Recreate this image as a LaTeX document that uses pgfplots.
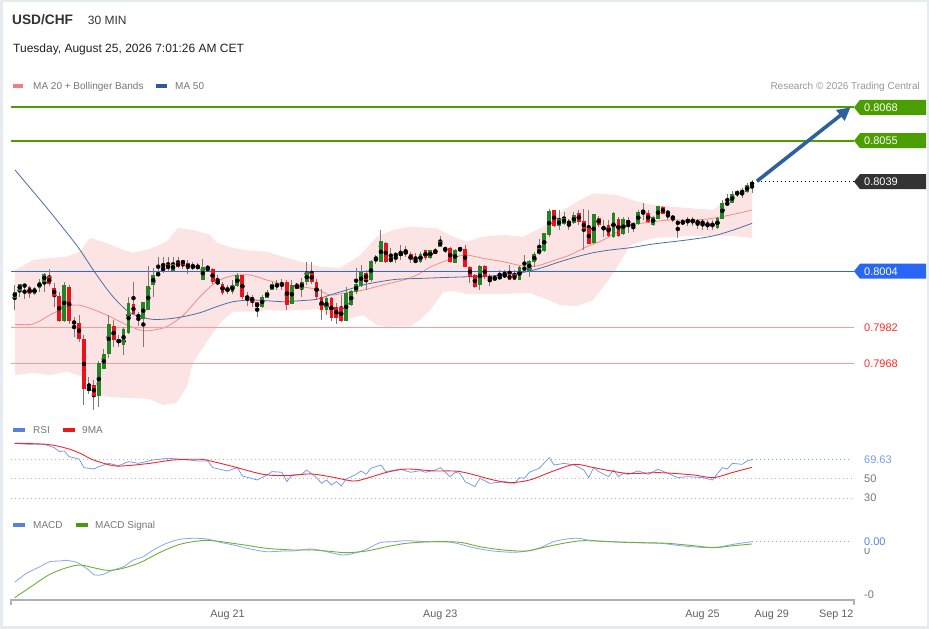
\documentclass[border=0pt]{standalone}
\usepackage{pgfplots}
\pgfplotsset{compat=1.18}
\usepackage{pgfplotstable}
\usetikzlibrary{arrows.meta}
\usepackage{fontspec}
\setmainfont{Liberation Sans}

\definecolor{lvlgreen}{HTML}{4A9E00}
\definecolor{lvlblue}{HTML}{2A66F5}
\definecolor{lvlred}{HTML}{FF9A9A}
\definecolor{lvlredtxt}{HTML}{FF2B2B}
\definecolor{darkbox}{HTML}{333333}
\definecolor{arrowblue}{HTML}{2F5F9F}
\definecolor{ma20}{HTML}{F28B8B}
\definecolor{ma50}{HTML}{4A6FA5}
\definecolor{band}{HTML}{FDE4E4}
\definecolor{cgreen}{HTML}{238423}
\definecolor{cred}{HTML}{E8141B}
\definecolor{wick}{HTML}{857575}
\definecolor{rsiblue}{HTML}{7C9CEB}
\definecolor{rsired}{HTML}{F0282D}
\definecolor{macdblue}{HTML}{8BA6EE}
\definecolor{sigreen}{HTML}{6CB236}
\definecolor{txtgray}{HTML}{777777}
\definecolor{gridgray}{HTML}{B4B4B4}
\definecolor{framec}{HTML}{E6EBEF}
\definecolor{axisgray}{HTML}{B0B0B8}
\definecolor{swma20}{HTML}{F47C7C}
\definecolor{swma50}{HTML}{2E5A9A}
\definecolor{swblue}{HTML}{5B7FE0}
\definecolor{swred}{HTML}{E81A1A}
\definecolor{swgreen}{HTML}{4A9A0A}

\newcommand{\fs}[1]{\fontsize{#1}{#1}\selectfont}

\pgfplotstableread{
i o h l c
1 0.79938 0.79986 0.79888 0.79960
2 0.79966 0.79993 0.79940 0.79989
3 0.79982 0.79990 0.79934 0.79986
4 0.79979 0.79986 0.79938 0.79953
5 0.79953 0.79979 0.79947 0.79976
6 0.79976 0.80012 0.79960 0.79999
7 0.79999 0.80032 0.79960 0.80029
8 0.80021 0.80050 0.79982 0.79990
9 0.79976 0.79993 0.79901 0.79944
10 0.79944 0.79960 0.79843 0.79849
11 0.79847 0.79999 0.79843 0.79986
12 0.79979 0.79986 0.79836 0.79845
13 0.79845 0.79862 0.79784 0.79836
14 0.79839 0.79869 0.79765 0.79778
15 0.79775 0.79791 0.79517 0.79582
16 0.79586 0.79628 0.79563 0.79576
17 0.79595 0.79615 0.79498 0.79556
18 0.79556 0.79693 0.79511 0.79683
19 0.79660 0.79739 0.79660 0.79716
20 0.79719 0.79869 0.79700 0.79834
21 0.79827 0.79849 0.79745 0.79771
22 0.79775 0.79791 0.79745 0.79761
23 0.79752 0.79823 0.79713 0.79813
24 0.79800 0.79940 0.79797 0.79914
25 0.79912 0.79999 0.79873 0.79875
26 0.79869 0.79882 0.79827 0.79862
27 0.79856 0.79921 0.79745 0.79918
28 0.79892 0.80060 0.79888 0.79982
29 0.79986 0.80055 0.79940 0.80025
30 0.80022 0.80097 0.80021 0.80035
31 0.80041 0.80097 0.80032 0.80058
32 0.80067 0.80097 0.80038 0.80051
33 0.80045 0.80099 0.80038 0.80068
34 0.80077 0.80097 0.80055 0.80060
35 0.80084 0.80086 0.80051 0.80068
36 0.80071 0.80084 0.80032 0.80054
37 0.80062 0.80077 0.80045 0.80054
38 0.80064 0.80073 0.80045 0.80051
39 0.80009 0.80088 0.80006 0.80058
40 0.80058 0.80060 0.80038 0.80051
41 0.80050 0.80055 0.79993 0.79999
42 0.79999 0.80025 0.79986 0.79993
43 0.79990 0.79999 0.79947 0.79956
44 0.79977 0.79986 0.79953 0.79960
45 0.79960 0.80006 0.79953 0.79986
46 0.79982 0.80032 0.79979 0.80025
47 0.80025 0.80028 0.79934 0.79940
48 0.79944 0.79960 0.79905 0.79934
49 0.79940 0.79947 0.79901 0.79921
50 0.79918 0.79921 0.79860 0.79901
51 0.79901 0.79947 0.79895 0.79940
52 0.79938 0.79966 0.79934 0.79960
53 0.79969 0.79999 0.79966 0.79990
54 0.79982 0.80006 0.79966 0.79990
55 0.79996 0.80008 0.79966 0.79986
56 0.79999 0.80006 0.79888 0.79908
57 0.79914 0.80006 0.79912 0.79986
58 0.79989 0.79996 0.79973 0.79973
59 0.79973 0.80012 0.79940 0.79999
60 0.79999 0.80077 0.79986 0.80038
61 0.80034 0.80077 0.79993 0.79999
62 0.79999 0.80010 0.79927 0.79940
63 0.79940 0.79973 0.79849 0.79892
64 0.79891 0.79940 0.79869 0.79934
65 0.79934 0.79940 0.79849 0.79860
66 0.79901 0.79917 0.79834 0.79860
67 0.79901 0.79947 0.79843 0.79849
68 0.79849 0.79980 0.79847 0.79956
69 0.79908 0.79967 0.79904 0.79963
70 0.79959 0.80055 0.79953 0.79990
71 0.79986 0.80064 0.79980 0.80038
72 0.80034 0.80045 0.79967 0.80006
73 0.80006 0.80084 0.79999 0.80080
74 0.80089 0.80103 0.80071 0.80094
75 0.80077 0.80201 0.80075 0.80158
76 0.80149 0.80155 0.80073 0.80077
77 0.80077 0.80129 0.80073 0.80097
78 0.80107 0.80116 0.80071 0.80102
79 0.80103 0.80142 0.80084 0.80112
80 0.80116 0.80141 0.80097 0.80112
81 0.80107 0.80116 0.80073 0.80084
82 0.80084 0.80110 0.80071 0.80077
83 0.80077 0.80116 0.80073 0.80107
84 0.80123 0.80125 0.80084 0.80094
85 0.80094 0.80125 0.80090 0.80123
86 0.80123 0.80129 0.80107 0.80110
87 0.80138 0.80177 0.80136 0.80158
88 0.80132 0.80136 0.80112 0.80123
89 0.80129 0.80136 0.80073 0.80077
90 0.80073 0.80125 0.80071 0.80123
91 0.80123 0.80136 0.80120 0.80129
92 0.80127 0.80142 0.80058 0.80060
93 0.80058 0.80060 0.79993 0.80019
94 0.80025 0.80032 0.79977 0.79980
95 0.79986 0.80064 0.79967 0.80058
96 0.80060 0.80064 0.80012 0.80019
97 0.80019 0.80029 0.79982 0.80006
98 0.80008 0.80025 0.80006 0.80016
99 0.80012 0.80045 0.80009 0.80022
100 0.80021 0.80045 0.80016 0.80028
101 0.80028 0.80064 0.80006 0.80009
102 0.80028 0.80045 0.80006 0.80009
103 0.80008 0.80060 0.80006 0.80055
104 0.80055 0.80103 0.80038 0.80047
105 0.80042 0.80084 0.80019 0.80081
106 0.80077 0.80116 0.80058 0.80107
107 0.80107 0.80168 0.80103 0.80129
108 0.80120 0.80190 0.80116 0.80188
109 0.80181 0.80282 0.80175 0.80275
110 0.80279 0.80282 0.80214 0.80220
111 0.80218 0.80279 0.80201 0.80244
112 0.80227 0.80272 0.80220 0.80249
113 0.80227 0.80244 0.80201 0.80236
114 0.80229 0.80272 0.80224 0.80259
115 0.80269 0.80282 0.80220 0.80233
116 0.80236 0.80282 0.80123 0.80207
117 0.80207 0.80279 0.80146 0.80149
118 0.80151 0.80266 0.80149 0.80263
119 0.80249 0.80256 0.80214 0.80223
120 0.80211 0.80243 0.80175 0.80206
121 0.80220 0.80240 0.80175 0.80181
122 0.80177 0.80272 0.80168 0.80269
123 0.80243 0.80253 0.80175 0.80181
124 0.80185 0.80253 0.80181 0.80243
125 0.80240 0.80253 0.80188 0.80227
126 0.80214 0.80233 0.80194 0.80227
127 0.80227 0.80279 0.80224 0.80272
128 0.80272 0.80308 0.80240 0.80266
129 0.80266 0.80279 0.80230 0.80236
130 0.80224 0.80259 0.80220 0.80253
131 0.80246 0.80295 0.80244 0.80292
132 0.80292 0.80295 0.80263 0.80266
133 0.80272 0.80279 0.80240 0.80266
134 0.80257 0.80259 0.80233 0.80246
135 0.80233 0.80240 0.80172 0.80227
136 0.80227 0.80246 0.80220 0.80237
137 0.80243 0.80253 0.80220 0.80233
138 0.80243 0.80253 0.80220 0.80233
139 0.80237 0.80246 0.80207 0.80230
140 0.80237 0.80246 0.80203 0.80227
141 0.80219 0.80240 0.80201 0.80230
142 0.80230 0.80240 0.80201 0.80216
143 0.80211 0.80253 0.80207 0.80248
144 0.80246 0.80318 0.80243 0.80308
145 0.80308 0.80341 0.80295 0.80301
146 0.80308 0.80355 0.80305 0.80341
147 0.80340 0.80357 0.80331 0.80353
148 0.80355 0.80364 0.80325 0.80347
149 0.80351 0.80383 0.80347 0.80377
150 0.80377 0.80396 0.80347 0.80387
}\candles

\begin{document}
\begin{tikzpicture}[x=1pt,y=1pt]
\fill[white] (0pt,0pt) rectangle (929pt,629pt);
\draw[framec, line width=2.5pt] (1.25pt,1.25pt) rectangle (927.75pt,627.75pt);

% ---------------- main price panel ----------------
\begin{axis}[at={(11pt,214pt)}, anchor=south west, scale only axis,
  width=843pt, height=355pt, xmin=0.252, xmax=170.6,
  ymin=0.794785, ymax=0.808652, hide axis, clip mode=individual]

% Bollinger band (upper band forward, lower band backward)
\addplot[fill=band, draw=none, forget plot] coordinates {
(1.06,0.800449)(4.7,0.800839)(8.13,0.800917)(11.5,0.800968)(14.2,0.801163)(16.2,0.801699)(19.6,0.801503)(22.9,0.801230)(24.9,0.801124)(28.3,0.801269)(31.7,0.801554)(34.0,0.802089)(37.0,0.802011)(40.5,0.801816)(41.8,0.801515)(45.1,0.801308)(48.6,0.801203)(51.9,0.801163)(55.2,0.800968)(58.7,0.800773)(62.7,0.800578)(66.8,0.800527)(70.8,0.801035)(74.2,0.801749)(77.5,0.802011)(80.9,0.802140)(86.3,0.802078)(89.6,0.801749)(92.35,0.801554)(95.6,0.801749)(99.7,0.801816)(103.7,0.801749)(107.8,0.802140)(111.85,0.802792)(114.6,0.803117)(117.9,0.803445)(122.7,0.803378)(126.8,0.803117)(130.0,0.802988)(136.9,0.802871)(142.1,0.802792)(144.2,0.803117)(147.0,0.803574)(150,0.803898)
(150,0.801699)(146.2,0.801777)(137.5,0.801777)(130.0,0.801699)(125.4,0.801425)(123.4,0.800761)(121.3,0.800136)(117.9,0.799277)(114.6,0.799042)(111.2,0.799081)(107.8,0.799355)(105.2,0.799550)(99.1,0.799511)(92.35,0.799511)(89.7,0.799628)(87.6,0.799589)(85.0,0.798886)(82.9,0.798495)(80.9,0.798261)(76.2,0.798234)(74.2,0.798300)(71.4,0.798691)(67.35,0.798495)(62.0,0.798914)(58.7,0.798886)(55.2,0.798859)(51.9,0.798886)(48.6,0.798820)(45.1,0.798820)(42.5,0.798378)(39.8,0.797648)(37.0,0.796816)(35.8,0.795890)(33.7,0.795254)(31.0,0.795175)(28.3,0.795410)(24.9,0.795449)(19.6,0.795488)(17.6,0.795644)(14.8,0.796281)(11.5,0.796476)(8.13,0.796347)(4.7,0.796425)(1.06,0.796347)} -- cycle;

% MA 20 and MA 50
\addplot[draw=ma20, line width=0.8pt, smooth, forget plot] coordinates {
(1.06,0.798328)(4.7,0.798339)(8.13,0.798691)(11.5,0.799015)(13.8,0.799081)(16.2,0.798953)(19.6,0.798691)(22.9,0.798367)(26.3,0.798105)(28.3,0.798078)(31.7,0.798234)(35.1,0.798691)(38.45,0.799406)(41.8,0.799992)(45.1,0.800226)(48.6,0.800253)(51.9,0.800058)(55.2,0.799902)(58.7,0.799796)(62.0,0.799695)(64.7,0.799472)(67.35,0.799538)(71.4,0.799667)(75.4,0.799863)(79.5,0.800058)(82.3,0.800253)(85.0,0.800566)(87.6,0.800773)(90.3,0.800968)(92.35,0.801035)(95.6,0.800906)(99.7,0.800773)(103.7,0.800605)(106.5,0.800605)(109.2,0.800773)(113.2,0.801035)(116.6,0.801359)(119.9,0.801620)(123.4,0.802011)(125.4,0.802206)(130.0,0.802335)(133.5,0.802402)(138.1,0.802402)(142.1,0.802468)(146.2,0.802624)(150,0.802792)};
\addplot[draw=ma50, line width=0.8pt, smooth, forget plot] coordinates {
(1.06,0.804355)(4.76,0.803507)(8.13,0.802726)(12.18,0.801749)(14.2,0.801230)(17.57,0.800253)(20.87,0.799406)(24.3,0.798781)(28.3,0.798535)(31.7,0.798535)(35.0,0.798624)(38.45,0.798781)(41.8,0.799015)(45.1,0.799210)(48.6,0.799277)(51.9,0.799250)(55.2,0.799210)(58.7,0.799250)(62.0,0.799304)(64.7,0.799472)(68.1,0.799667)(71.4,0.799863)(74.8,0.799992)(78.2,0.800085)(83.5,0.800124)(88.9,0.800163)(92.9,0.800187)(97.1,0.800214)(101.1,0.800292)(104.5,0.800382)(107.8,0.800554)(111.2,0.800773)(114.6,0.800968)(117.9,0.801124)(121.3,0.801230)(125.4,0.801320)(130.0,0.801464)(136.8,0.801620)(142.1,0.801777)(146.2,0.802011)(150,0.802273)};

% level lines (drawn as thin filled strips)
\fill[lvlred] ([yshift=-0.6pt]axis cs:0.252,0.7982) rectangle ([yshift=0.6pt]axis cs:170.6,0.7982);
\fill[lvlred] ([yshift=-0.6pt]axis cs:0.252,0.7968) rectangle ([yshift=0.6pt]axis cs:170.6,0.7968);
\fill[lvlblue] ([yshift=-0.65pt]axis cs:0.252,0.8004) rectangle ([yshift=0.65pt]axis cs:170.6,0.8004);

% candles: wicks
\addplot[only marks, mark=none, forget plot,
  error bars/.cd, y dir=both, y explicit, error mark=none,
  error bar style={draw=wick, line width=1pt, solid}]
  table[x=i, y expr={(\thisrow{h}+\thisrow{l})/2}, y error expr={(\thisrow{h}-\thisrow{l})/2}] {\candles};
% bodies up
\addplot[only marks, mark=none, forget plot, unbounded coords=discard,
  error bars/.cd, y dir=both, y explicit, error mark=none,
  error bar style={draw=cgreen, line width=3.8pt, solid}]
  table[x=i, y expr={\thisrow{c}>=\thisrow{o} ? (\thisrow{o}+\thisrow{c})/2 : nan},
        y error expr={abs(\thisrow{c}-\thisrow{o})/2+0.00001}] {\candles};
% bodies down
\addplot[only marks, mark=none, forget plot, unbounded coords=discard,
  error bars/.cd, y dir=both, y explicit, error mark=none,
  error bar style={draw=cred, line width=3.8pt, solid}]
  table[x=i, y expr={\thisrow{c}<\thisrow{o} ? (\thisrow{o}+\thisrow{c})/2 : nan},
        y error expr={abs(\thisrow{c}-\thisrow{o})/2+0.00001}] {\candles};

% green level lines and last-price dotted line
\fill[lvlgreen] ([yshift=-1pt]axis cs:0.252,0.8068) rectangle ([yshift=1pt]axis cs:170.6,0.8068);
\fill[lvlgreen] ([yshift=-1pt]axis cs:0.252,0.8055) rectangle ([yshift=1pt]axis cs:170.6,0.8055);
\draw[black, line width=0.8pt, dash pattern=on 1pt off 3pt] (axis cs:151,0.8039) -- (axis cs:170.6,0.8039);

% arrow
\draw[arrowblue, line width=3.6pt, -{Triangle[length=13pt,width=13pt]}] (axis cs:151.0,0.80392) -- (axis cs:169.9,0.8068);

% label tags
\fill[lvlgreen] (axis cs:170.6,0.8068) -- ++(6pt,7.5pt) -- ++(66pt,0pt) -- ++(0pt,-15pt) -- ++(-66pt,0pt) -- cycle;
\node[anchor=west, text=white, inner sep=0pt, font=\fs{11}] at ([xshift=10pt]axis cs:170.6,0.8068) {0.8068};
\fill[lvlgreen] (axis cs:170.6,0.8055) -- ++(6pt,7.5pt) -- ++(66pt,0pt) -- ++(0pt,-15pt) -- ++(-66pt,0pt) -- cycle;
\node[anchor=west, text=white, inner sep=0pt, font=\fs{11}] at ([xshift=10pt]axis cs:170.6,0.8055) {0.8055};
\fill[darkbox] (axis cs:170.6,0.8039) -- ++(6pt,7.5pt) -- ++(66pt,0pt) -- ++(0pt,-15pt) -- ++(-66pt,0pt) -- cycle;
\node[anchor=west, text=white, inner sep=0pt, font=\fs{11}] at ([xshift=10pt]axis cs:170.6,0.8039) {0.8039};
\fill[lvlblue] (axis cs:170.6,0.8004) -- ++(6pt,7.5pt) -- ++(66pt,0pt) -- ++(0pt,-15pt) -- ++(-66pt,0pt) -- cycle;
\node[anchor=west, text=white, inner sep=0pt, font=\fs{11}] at ([xshift=10pt]axis cs:170.6,0.8004) {0.8004};
\node[anchor=west, text=lvlredtxt, inner sep=0pt, font=\fs{11}] at ([xshift=10pt]axis cs:170.6,0.7982) {0.7982};
\node[anchor=west, text=lvlredtxt, inner sep=0pt, font=\fs{11}] at ([xshift=10pt]axis cs:170.6,0.7968) {0.7968};
\end{axis}

% ---------------- RSI panel ----------------
\begin{axis}[at={(11pt,124pt)}, anchor=south west, scale only axis,
  width=843pt, height=73pt, xmin=0.252, xmax=170.6,
  ymin=22.9, ymax=98.1, hide axis, clip mode=individual]
\addplot[draw=gridgray, line width=0.7pt, dash pattern=on 1pt off 3pt, forget plot] coordinates {(0.252,70)(150,70)};
\addplot[draw=gridgray, line width=0.7pt, dash pattern=on 1pt off 3pt, forget plot] coordinates {(0.252,50)(170.2,50)};
\addplot[draw=gridgray, line width=0.7pt, dash pattern=on 1pt off 3pt, forget plot] coordinates {(0.252,30)(170.2,30)};
\addplot[draw=rsiblue, line width=0.9pt, dash pattern=on 1pt off 3pt, forget plot] coordinates {(150,69.63)(170.2,69.63)};
\addplot[draw=rsiblue, line width=0.8pt, forget plot] coordinates {
(1,86.4)(4,85.4)(7,85.4)(9,82.0)(10,77.9)(11,78.6)(12,72.7)(14,70.3)(15,61.4)(17,60.0)(18,62.4)(20,65.8)(22,63.4)(24,67.6)(26,65.8)(29,69.3)(32,71.0)(34,70.3)(38,68.3)(40,68.3)(41,61.4)(44,58.0)(46,61.4)(47,52.8)(50,48.7)(52,53.8)(53,57.3)(55,56.6)(56,47.0)(57,53.8)(59,54.5)(60,59.0)(62,51.1)(63,45.2)(64,48.7)(65,43.5)(66,47.0)(67,42.5)(68,49.7)(70,54.5)(71,58.0)(72,54.5)(73,60.7)(75,64.1)(76,57.3)(79,59.7)(81,56.6)(83,58.3)(84,56.6)(86,59.0)(87,61.4)(89,52.1)(90,56.6)(91,55.5)(92,47.0)(94,41.8)(95,50.4)(97,45.2)(100,47.0)(102,45.2)(103,51.1)(104,50.4)(105,56.6)(107,60.7)(109,71.7)(110,64.1)(112,65.8)(114,64.1)(116,59.0)(117,51.1)(118,61.4)(119,57.3)(121,52.1)(122,59.0)(123,52.1)(124,55.5)(125,54.5)(127,58.0)(129,54.5)(131,59.7)(133,55.5)(135,51.1)(137,52.1)(140,51.1)(142,48.7)(144,61.4)(145,60.0)(146,65.8)(148,64.8)(149,68.3)(150,69.63)};
\addplot[draw=rsired, line width=0.9pt, smooth, forget plot] coordinates {
(1,86.4)(7.5,85.4)(11.5,81.3)(14.2,76.2)(16.9,69.3)(20.9,63.4)(23.6,63.4)(28.3,65.8)(33.1,69.3)(38.5,70.0)(41.1,67.6)(45.2,62.4)(51.2,54.5)(56,53.1)(60.7,54.9)(64.7,52.1)(69.4,47.6)(72.1,50.4)(76.2,56.6)(80.2,60.0)(85.6,58.0)(91,57.3)(97.7,48.7)(101.1,45.9)(105.1,48.7)(109.9,58.0)(114.2,64.8)(118,61.4)(124.7,55.5)(131.4,56.2)(138.2,53.8)(142.2,51.1)(146.2,56.6)(150,61.7)};
\node[anchor=west, text=rsiblue, inner sep=0pt, font=\fs{11}] at ([xshift=10pt]axis cs:170.6,69.63) {69.63};
\node[anchor=west, text=txtgray, inner sep=0pt, font=\fs{11}] at ([xshift=10pt]axis cs:170.6,50) {50};
\node[anchor=west, text=txtgray, inner sep=0pt, font=\fs{11}] at ([xshift=10pt]axis cs:170.6,30) {30};
\end{axis}

% ---------------- MACD panel ----------------
\begin{axis}[at={(11pt,29pt)}, anchor=south west, scale only axis,
  width=843pt, height=70pt, xmin=0.252, xmax=170.6,
  ymin=-0.0005, ymax=0.0002, clip mode=individual, hide axis]
\addplot[draw=macdblue, line width=0.9pt, dash pattern=on 1pt off 3pt, forget plot] coordinates {(150,0.000083)(170.2,0.000083)};
\addplot[draw=macdblue, line width=0.8pt, smooth, forget plot] coordinates {
(1,-0.000323)(3.4,-0.000233)(6.1,-0.000167)(8.1,-0.000117)(10.2,-0.000110)(11.2,-0.000103)(13.5,-0.000123)(15.5,-0.000183)(17.2,-0.000250)(18.9,-0.000243)(20.9,-0.000200)(23,-0.000167)(25,-0.000100)(27,-0.000067)(29,0)(31.7,0.000067)(34.4,0.000107)(37.1,0.000117)(39.8,0.000110)(42.5,0.000077)(45.2,0.000050)(48.6,0.000010)(51.9,-0.000017)(55.3,-0.000010)(57.3,-0.000010)(60.7,0.000010)(63.4,-0.000010)(67.4,-0.000050)(70.8,-0.000017)(72.1,0.000007)(74.8,0.000073)(77.5,0.000083)(80.2,0.000093)(84.3,0.000083)(87.6,0.000083)(90.3,0.000067)(93.7,0.000023)(97.7,-0.000010)(101.8,-0.000023)(104.5,-0.000010)(107.2,0.000023)(109.9,0.000083)(112.6,0.000110)(114.9,0.000117)(117.3,0.000097)(121.3,0.000083)(126,0.000073)(131.4,0.000067)(135.5,0.000043)(139.5,0.000027)(142.9,0.000027)(146.2,0.000057)(150,0.000083)};
\addplot[draw=sigreen, line width=0.9pt, smooth, forget plot] coordinates {
(1,-0.000477)(4.8,-0.000350)(8.1,-0.000243)(11.5,-0.000177)(14.2,-0.000150)(16.9,-0.000177)(19.6,-0.000203)(22.3,-0.000190)(26.3,-0.000127)(30.4,-0.000023)(34.4,0.000057)(38.5,0.000093)(41.1,0.000093)(46.5,0.000057)(51.9,0.000017)(57.3,0)(61.4,0)(65.4,-0.000017)(68.1,-0.000027)(72.1,-0.000010)(76.2,0.000033)(80.2,0.000067)(85.6,0.000083)(91,0.000077)(95,0.000033)(99.8,0)(104.5,-0.000010)(108.5,0.000033)(112.6,0.000073)(115.9,0.000093)(121.3,0.000083)(128.1,0.000073)(132.8,0.000067)(138.2,0.000043)(142.2,0.000023)(146.2,0.000043)(150,0.000060)};
% x axis line, end ticks and date labels
\fill[axisgray] ([yshift=-1pt]axis cs:0.252,-0.0005) rectangle ([yshift=1pt]axis cs:170.6,-0.0005);
\fill[axisgray] ([xshift=-1pt,yshift=1pt]axis cs:0.252,-0.0005) rectangle ([xshift=1pt,yshift=-5pt]axis cs:0.252,-0.0005);
\fill[axisgray] ([xshift=-1pt,yshift=1pt]axis cs:170.6,-0.0005) rectangle ([xshift=1pt,yshift=-5pt]axis cs:170.6,-0.0005);
\node[text=black!62, inner sep=0pt, font=\fs{10.8}] at ([yshift=-14.5pt]axis cs:44,-0.0005) {Aug 21};
\node[text=black!62, inner sep=0pt, font=\fs{10.8}] at ([yshift=-14.5pt]axis cs:87,-0.0005) {Aug 23};
\node[text=black!62, inner sep=0pt, font=\fs{10.8}] at ([yshift=-14.5pt]axis cs:140,-0.0005) {Aug 25};
\node[text=black!62, inner sep=0pt, font=\fs{10.8}] at ([yshift=-14.5pt]axis cs:154,-0.0005) {Aug 29};
\node[text=black!62, inner sep=0pt, font=\fs{10.8}] at ([yshift=-14.5pt]axis cs:167,-0.0005) {Sep 12};
\node[anchor=west, text=txtgray, inner sep=0pt, font=\fs{11}] at ([xshift=10pt,yshift=-1pt]axis cs:170.6,0) {0};
\node[anchor=west, text=swblue, fill=white, inner xsep=0pt, inner ysep=2.5pt, font=\fs{11}] at ([xshift=10pt]axis cs:170.6,0.000083) {0.00};
\node[anchor=west, text=txtgray, inner sep=0pt, font=\fs{11}] at ([xshift=10pt]axis cs:170.6,-0.00045) {-0};
\end{axis}

% ---------------- texts and legends ----------------
\node[anchor=base west, inner sep=0pt, text=black!80, font=\fs{13.7}\bfseries] at (12pt,604.5pt) {USD/CHF};
\node[anchor=base west, inner sep=0pt, text=black!80, font=\fs{12}] at (87.7pt,604.5pt) {30 MIN};
\node[anchor=base west, inner sep=0pt, text=black!87, font=\fs{12}] at (13pt,576pt) {Tuesday, August 25, 2026 7:01:26 AM CET};

\fill[swma20] (13pt,541pt) rectangle (23pt,545pt);
\node[anchor=base west, inner sep=0pt, text=txtgray, font=\fs{10}] at (33pt,539.5pt) {MA 20 + Bollinger Bands};
\fill[swma50] (156pt,541pt) rectangle (167pt,545pt);
\node[anchor=base west, inner sep=0pt, text=txtgray, font=\fs{10}] at (175pt,539.5pt) {MA 50};
\node[anchor=base east, inner sep=0pt, text=black!40, font=\fs{10}] at (920pt,539.5pt) {Research © 2026 Trading Central};

\fill[swblue] (13pt,197pt) rectangle (25pt,201pt);
\node[anchor=base west, inner sep=0pt, text=txtgray, font=\fs{10}] at (33pt,195pt) {RSI};
\fill[swred] (63pt,197pt) rectangle (75pt,201pt);
\node[anchor=base west, inner sep=0pt, text=txtgray, font=\fs{10}] at (82pt,195pt) {9MA};

\fill[swblue] (13pt,102pt) rectangle (25pt,106pt);
\node[anchor=base west, inner sep=0pt, text=txtgray, font=\fs{10}] at (33pt,100pt) {MACD};
\fill[swgreen] (76pt,102pt) rectangle (88pt,106pt);
\node[anchor=base west, inner sep=0pt, text=txtgray, font=\fs{10}] at (95pt,100pt) {MACD Signal};
\end{tikzpicture}
\end{document}
